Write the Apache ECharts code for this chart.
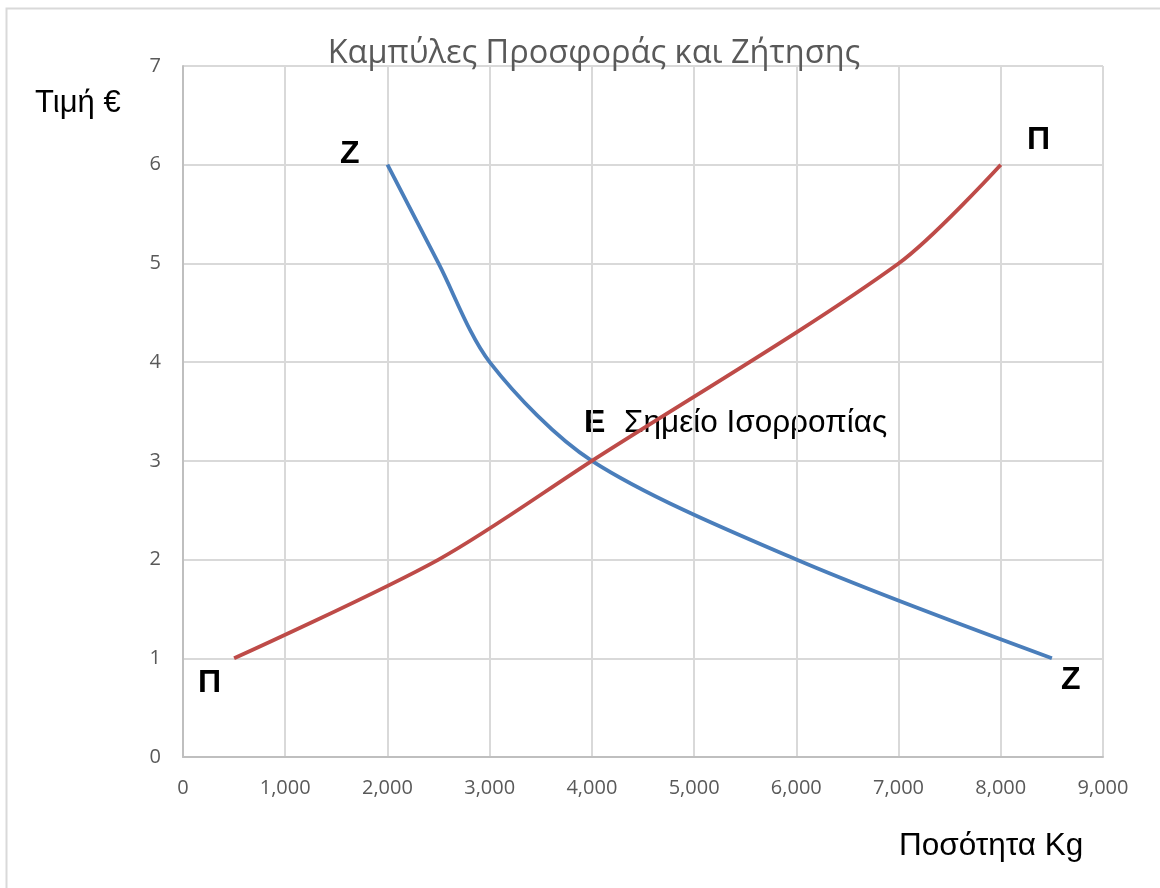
<!DOCTYPE html>
<html>
<head>
<meta charset="utf-8">
<script src="https://cdn.jsdelivr.net/npm/echarts@6/dist/echarts.min.js"></script>
<style>
html,body{margin:0;padding:0;background:#fff;}
#c{width:1160px;height:888px;}
</style>
</head>
<body>
<div id="c"></div>
<script>
// Data
var demandQ = [2000, 2500, 3000, 4000, 6000, 8500];
var demandP = [6, 5, 4, 3, 2, 1];
var supplyQ = [500, 2500, 4000, 7000, 8000];
var supplyP = [1, 2, 3, 5, 6];
var titleText = 'Καμπύλες Προσφοράς και Ζήτησης';
var yName = 'Τιμή €';
var xName = 'Ποσότητα Kg';
var eqLabel = 'Σημείο Ισορροπίας';

function pairs(xs, ys){ return xs.map(function(x,i){return [x, ys[i]];}); }

var chart = echarts.init(document.getElementById('c'), null, {renderer:'canvas'});
var labelFont = 'Liberation Sans, Arial, sans-serif';
chart.setOption({
  animation:false,
  backgroundColor:'#fff',
  title:{text:titleText, left:589, top:49, textAlign:'center', textVerticalAlign:'middle',
    textStyle:{fontFamily:'Open Sans', fontSize:32.5, fontWeight:'normal', color:'#595959'}},
  grid:{left:183, top:66, width:920, height:691, containLabel:false},
  xAxis:{type:'value', min:0, max:9000, interval:1000,
    axisLine:{show:true, lineStyle:{color:'#bfbfbf', width:2}},
    axisTick:{show:false},
    splitLine:{show:true, lineStyle:{color:'#d9d9d9', width:2}},
    axisLabel:{margin:21, fontFamily:'Open Sans', fontSize:20, color:'#595959',
      formatter:function(v){return v.toLocaleString('en-US');}}},
  yAxis:{type:'value', min:0, max:7, interval:1,
    axisLine:{show:true, lineStyle:{color:'#bfbfbf', width:2}},
    axisTick:{show:false},
    splitLine:{show:true, lineStyle:{color:'#d9d9d9', width:2}},
    axisLabel:{margin:22, fontFamily:'Open Sans', fontSize:20, color:'#595959'}},
  graphic:[
    {type:'rect', shape:{x:6.5, y:8.5, width:1300, height:1000}, style:{fill:'none', stroke:'#d9d9d9', lineWidth:2}, z:-1},
    {type:'text', left:35, top:87.5, style:{text:yName, font:'31px '+labelFont, fill:'#000'}},
    {type:'text', left:899, top:830.5, style:{text:xName, font:'31.5px '+labelFont, fill:'#000'}},
    {type:'text', left:340, top:138.5, style:{text:'Z', font:'bold 32px '+labelFont, fill:'#000'}},
    {type:'text', left:1027, top:124.5, style:{text:'Π', font:'bold 32px '+labelFont, fill:'#000'}},
    {type:'text', left:198, top:667.5, style:{text:'Π', font:'bold 32px '+labelFont, fill:'#000'}},
    {type:'text', left:1061, top:664.5, style:{text:'Z', font:'bold 32px '+labelFont, fill:'#000'}},
    {type:'text', left:584, top:407.5, style:{text:'E', font:'bold 32px '+labelFont, fill:'#000'}},
    {type:'text', left:624, top:407.5, style:{text:eqLabel, font:'31.5px '+labelFont, fill:'#000'}}
  ],
  series:[
    {name:'Ζήτηση', type:'line', data:pairs(demandQ, demandP), smooth:0.3, symbol:'none',
      lineStyle:{color:'#4a7ebb', width:3.8}},
    {name:'Προσφορά', type:'line', data:pairs(supplyQ, supplyP), smooth:0.3, symbol:'none',
      lineStyle:{color:'#be4b48', width:3.8}}
  ]
});
</script>
</body>
</html>
